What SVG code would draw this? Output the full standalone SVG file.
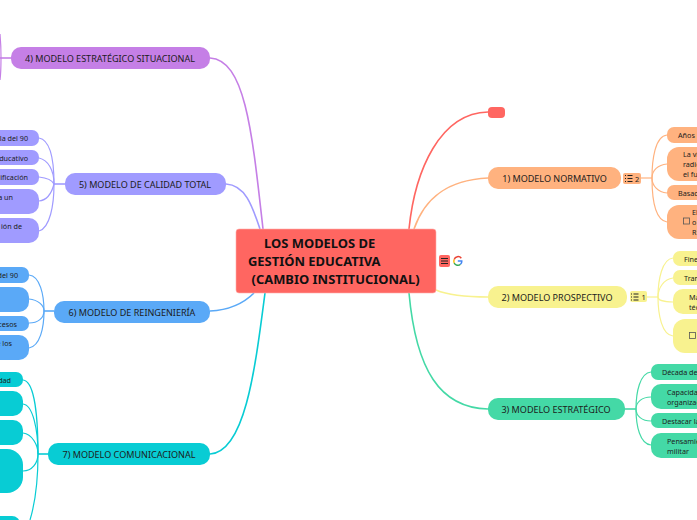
<svg xmlns="http://www.w3.org/2000/svg" width="697" height="520" viewBox="0 0 697 520">
<style>
text{font-family:"Noto Sans","Open Sans",sans-serif;fill:#1c1c1c}
.m{font-size:9.05px;text-anchor:middle}
.s{font-size:7.2px}
.e{text-anchor:end}
.c{font-size:12.95px;font-weight:700;fill:#111}
.l{fill:none;stroke-width:1.2}
.t{fill:none;stroke-width:1.6}
.box{fill:none;stroke:#555;stroke-width:.8}
</style>
<rect width="697" height="520" fill="#fff"/>
<g id="connectors">
<path class="t" stroke="#ff6661" d="M409 229C415 170 440 113 488 112"/>
<path class="t" stroke="#ffb27f" d="M414 229C424 200 445 180 488 178"/>
<path class="t" stroke="#f8f28f" d="M436 290C450 296 470 297 488 297"/>
<path class="t" stroke="#44d9a6" d="M409 293C416 370 440 408 488 409"/>
<path class="t" stroke="#c57fe6" d="M210 58C245 60 252 130 263 229"/>
<path class="t" stroke="#a09bff" d="M226 184C245 185 252 205 260 229"/>
<path class="t" stroke="#5aa9f7" d="M210 311C230 310 245 302 254 293"/>
<path class="t" stroke="#08ccd4" d="M210 454C245 452 255 370 265 293"/>
<path class="t" stroke="#c57fe6" d="M0 58H11"/>
<path class="l" stroke="#c57fe6" d="M0 34C1 45 1 52 1 58C1 64 1 72 0 80"/>
<path class="t" stroke="#a09bff" d="M54 184H65"/>
<g stroke="#a09bff">
<path class="l" d="M39 138C50 140 54 160 54 184"/>
<path class="l" d="M39 158C48 160 54 170 54 184"/>
<path class="l" d="M39 177C48 178 52 180 54 184"/>
<path class="l" d="M39 201C48 200 52 192 54 184"/>
<path class="l" d="M39 231C50 228 54 205 54 184"/>
</g>
<path class="t" stroke="#5aa9f7" d="M44 311H54"/>
<g stroke="#5aa9f7">
<path class="l" d="M29 275C40 276 44 295 44 311"/>
<path class="l" d="M29 299C38 300 44 305 44 311"/>
<path class="l" d="M29 323C38 323 44 318 44 311"/>
<path class="l" d="M29 348C40 346 44 328 44 311"/>
</g>
<path class="t" stroke="#08ccd4" d="M38 454H48"/>
<g stroke="#08ccd4">
<path class="l" d="M23 380C35 381 38 420 38 454"/>
<path class="l" d="M23 404C33 405 38 430 38 454"/>
<path class="l" d="M23 433C32 434 38 445 38 454"/>
<path class="l" d="M23 471C32 471 38 463 38 454"/>
<path class="l" d="M30 520C36 500 38 480 38 454"/>
</g>
<path class="l" stroke="#ffb27f" d="M641 178H652"/>
<g stroke="#ffb27f">
<path class="l" d="M667 135C655 136 652 160 652 178"/>
<path class="l" d="M667 164C658 165 652 170 652 178"/>
<path class="l" d="M667 193C658 192 652 186 652 178"/>
<path class="l" d="M667 222C655 220 652 198 652 178"/>
</g>
<path class="l" stroke="#f8f28f" d="M647 297H658"/>
<g stroke="#f8f28f">
<path class="l" d="M673 258C662 259 658 280 658 297"/>
<path class="l" d="M673 278C664 279 658 288 658 297"/>
<path class="l" d="M673 302C664 302 658 300 658 297"/>
<path class="l" d="M673 336C662 335 658 315 658 297"/>
</g>
<path class="t" stroke="#44d9a6" d="M625 409H636"/>
<g stroke="#44d9a6">
<path class="l" d="M651 372C640 373 636 392 636 409"/>
<path class="l" d="M651 397C642 397 636 402 636 409"/>
<path class="l" d="M651 421C642 421 636 416 636 409"/>
<path class="l" d="M651 445C640 444 636 426 636 409"/>
</g>
</g>
<g id="central">
<rect x="236" y="229" width="200" height="64" rx="3" fill="#ff6661" stroke="#ffb0ad" stroke-width=".6"/>
<text class="c" x="264" y="248">LOS MODELOS DE</text>
<text class="c" x="248" y="266">GESTIÓN EDUCATIVA</text>
<text class="c" x="251.500" y="284">(CAMBIO INSTITUCIONAL)</text>
<rect x="439" y="255" width="11" height="12" rx="2" fill="#ff6661"/>
<path d="M441 258.500H448M441 261H448M441 263.500H448" stroke="#222" stroke-width="1"/>
<path d="M461.300 258.300A4 4 0 0 0 454.200 259.500" fill="none" stroke="#ea4335" stroke-width="1.500"/>
<path d="M454.200 259.500A4 4 0 0 0 454.200 263" fill="none" stroke="#fbbc05" stroke-width="1.500"/>
<path d="M454.200 263A4 4 0 0 0 460.500 264.300" fill="none" stroke="#34a853" stroke-width="1.500"/>
<path d="M460.500 264.300A4 4 0 0 0 461.800 261H457.800" fill="none" stroke="#4285f4" stroke-width="1.500"/>
</g>
<g id="n-red"><rect x="488" y="107" width="17" height="11" rx="4" fill="#ff6661"/></g>
<g id="n1">
<rect x="488" y="167" width="133" height="22" rx="10" fill="#ffb27f"/>
<text class="m" x="554.500" y="181.500">1) MODELO NORMATIVO</text>
<rect x="623" y="173" width="18" height="11" rx="2" fill="#ffb27f"/>
<path d="M625 175.500h1M625 178.500h1M625 181.500h1M627.500 175.500h5M627.500 178.500h5M627.500 181.500h5" stroke="#222" stroke-width="1"/>
<text x="635" y="181.500" font-size="7.500">2</text>
</g>
<g id="n1a"><rect x="667" y="127" width="50" height="16" rx="7" fill="#ffb27f"/><text class="s" x="678" y="138">Años</text></g>
<g id="n1b"><rect x="667" y="147" width="50" height="34" rx="12" fill="#ffb27f"/><text class="s" x="683" y="157">La vi</text><text class="s" x="683" y="167">radic</text><text class="s" x="683" y="177">el fu</text></g>
<g id="n1c"><rect x="667" y="185" width="50" height="15" rx="7" fill="#ffb27f"/><text class="s" x="678" y="196">Basad</text></g>
<g id="n1d"><rect x="667" y="205" width="50" height="34" rx="12" fill="#ffb27f"/><rect class="box" x="683.500" y="218" width="6" height="6"/><text class="s" x="692" y="215">El</text><text class="s" x="692" y="225">o</text><text class="s" x="692" y="235">R</text></g>
<g id="n2">
<rect x="488" y="286" width="139" height="22" rx="10" fill="#f8f28f"/>
<text class="m" x="557" y="300.500">2) MODELO PROSPECTIVO</text>
<rect x="630" y="291" width="17" height="11" rx="2" fill="#f8f28f"/>
<path d="M631 294h1M631 297h1M631 300h1M633.500 294h5M633.500 297h5M633.500 300h5" stroke="#222" stroke-width="1"/>
<text x="641.500" y="300" font-size="7.500">1</text>
</g>
<g id="n2a"><rect x="673" y="251" width="40" height="15" rx="7" fill="#f8f28f"/><text class="s" x="684" y="261.500">Fine</text></g>
<g id="n2b"><rect x="673" y="270" width="40" height="15" rx="7" fill="#f8f28f"/><text class="s" x="684" y="281">Tran</text></g>
<g id="n2c"><rect x="673" y="289" width="40" height="25" rx="10" fill="#f8f28f"/><text class="s" x="689" y="300">Ma</text><text class="s" x="689" y="310">téc</text></g>
<g id="n2d"><rect x="673" y="319" width="40" height="34" rx="12" fill="#f8f28f"/><rect class="box" x="689.500" y="332.500" width="6" height="6"/></g>
<g id="n3">
<rect x="488" y="398" width="137" height="22" rx="10" fill="#44d9a6"/>
<text class="m" x="556" y="412.500">3) MODELO ESTRATÉGICO</text>
</g>
<g id="n3a"><rect x="651" y="364" width="60" height="16" rx="7" fill="#44d9a6"/><text class="s" x="662" y="375">Década de</text></g>
<g id="n3b"><rect x="651" y="384" width="60" height="25" rx="10" fill="#44d9a6"/><text class="s" x="667" y="395">Capacida</text><text class="s" x="667" y="405">organizac</text></g>
<g id="n3c"><rect x="651" y="413" width="60" height="15" rx="7" fill="#44d9a6"/><text class="s" x="662" y="424">Destacar la</text></g>
<g id="n3d"><rect x="651" y="433" width="60" height="25" rx="10" fill="#44d9a6"/><text class="s" x="667" y="444">Pensamie</text><text class="s" x="667" y="454">militar</text></g>
<g id="n4"><rect x="11" y="47" width="199" height="22" rx="10" fill="#c57fe6"/><text class="m" x="110" y="61.500">4) MODELO ESTRATÉGICO SITUACIONAL</text></g>
<g id="n5"><rect x="65" y="173" width="161" height="22" rx="10" fill="#a09bff"/><text class="m" x="145" y="187.500">5) MODELO DE CALIDAD TOTAL</text></g>
<g id="n5a"><rect x="-20" y="130" width="59" height="16" rx="7" fill="#a09bff"/><text class="s e" x="28" y="141">la del 90</text></g>
<g id="n5b"><rect x="-20" y="150" width="59" height="15" rx="7" fill="#a09bff"/><text class="s e" x="28" y="161">ducativo</text></g>
<g id="n5c"><rect x="-20" y="169" width="59" height="16" rx="7" fill="#a09bff"/><text class="s e" x="28" y="180">ificación</text></g>
<g id="n5d"><rect x="-20" y="189" width="59" height="25" rx="10" fill="#a09bff"/><text class="s e" x="13" y="200">a un</text></g>
<g id="n5e"><rect x="-20" y="218" width="59" height="25" rx="10" fill="#a09bff"/><text class="s e" x="22" y="229">ión de</text></g>
<g id="n6"><rect x="54" y="301" width="156" height="22" rx="10" fill="#5aa9f7"/><text class="m" x="132" y="315.500">6) MODELO DE REINGENIERÍA</text></g>
<g id="n6a"><rect x="-20" y="267" width="49" height="16" rx="7" fill="#5aa9f7"/><text class="s e" x="18" y="278">del 90</text></g>
<g id="n6b"><rect x="-20" y="287" width="49" height="25" rx="10" fill="#5aa9f7"/></g>
<g id="n6c"><rect x="-20" y="316" width="49" height="15" rx="7" fill="#5aa9f7"/><text class="s e" x="17" y="327">cesos</text></g>
<g id="n6d"><rect x="-20" y="335" width="49" height="25" rx="10" fill="#5aa9f7"/><text class="s e" x="12" y="346">e los</text></g>
<g id="n7"><rect x="48" y="443" width="162" height="22" rx="10" fill="#08ccd4"/><text class="m" x="129" y="457.500">7) MODELO COMUNICACIONAL</text></g>
<g id="n7a"><rect x="-20" y="372" width="43" height="15" rx="7" fill="#08ccd4"/><text class="s e" x="11" y="383">dad</text></g>
<g id="n7b"><rect x="-20" y="391" width="43" height="25" rx="10" fill="#08ccd4"/></g>
<g id="n7c"><rect x="-20" y="420" width="43" height="25" rx="10" fill="#08ccd4"/></g>
<g id="n7d"><rect x="-20" y="449" width="43" height="44" rx="16" fill="#08ccd4"/></g>
<g id="n7e"><rect x="-20" y="516" width="40" height="20" rx="8" fill="#08ccd4"/></g>
</svg>
